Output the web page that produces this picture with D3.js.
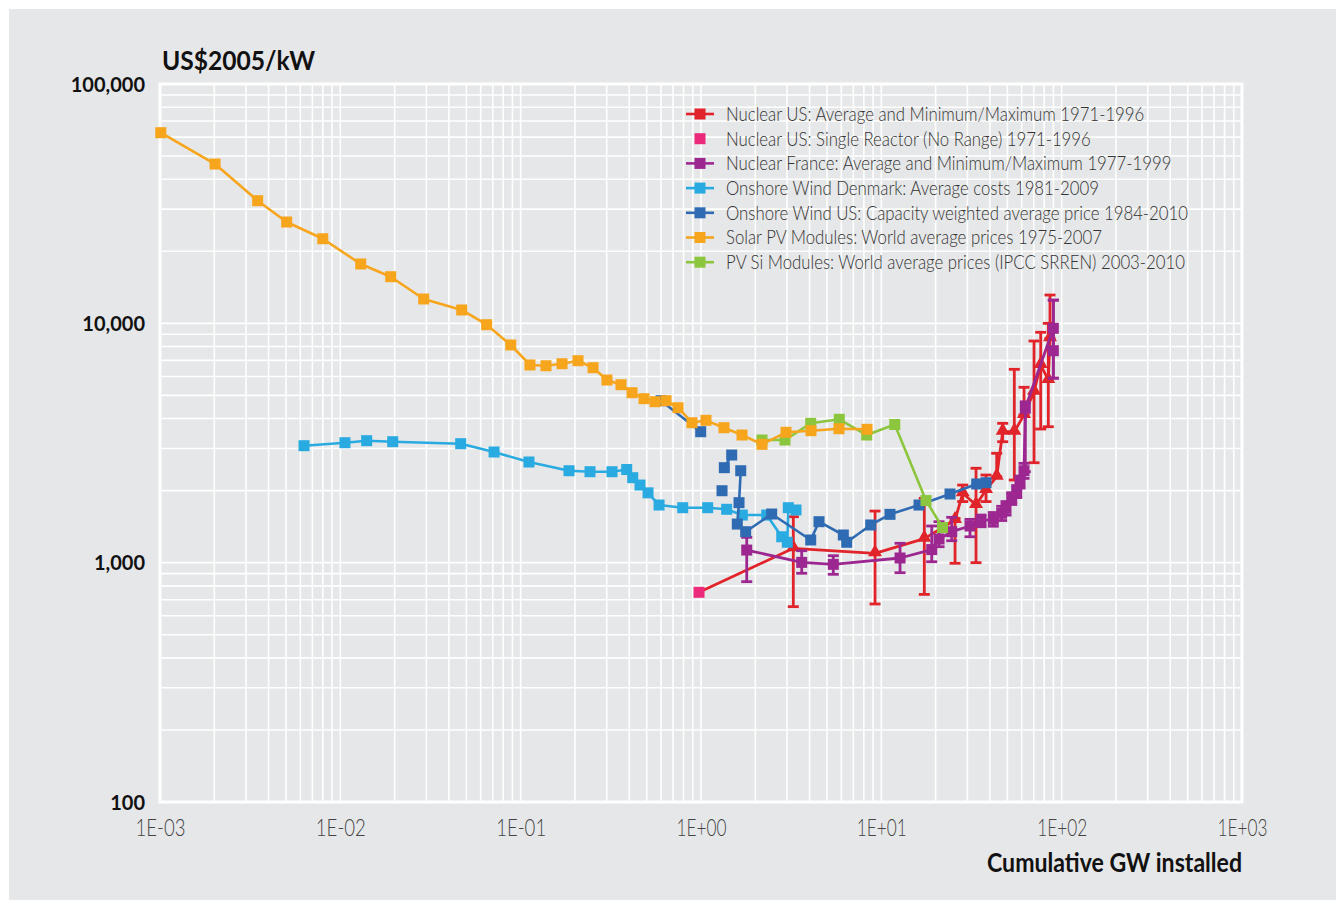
<!DOCTYPE html>
<html>
<head>
<meta charset="utf-8">
<script src="https://cdn.jsdelivr.net/npm/d3@7"></script>
<style>
  html, body { margin: 0; padding: 0; background: #ffffff; }
  svg { display: block; }
</style>
</head>
<body>
<svg id="chart" width="1344" height="908"></svg>
<script>
// ---- Data: cumulative installed capacity (GW) vs. investment cost (US$2005/kW) ----

// Solar PV Modules: World average prices 1975-2007
const solarGW   = [0.00101, 0.00202, 0.00348, 0.00504, 0.00799, 0.01297, 0.01902, 0.0290, 0.0471, 0.0648,
                   0.0881, 0.1126, 0.1382, 0.1696, 0.208, 0.252, 0.301, 0.360, 0.4145, 0.483,
                   0.556, 0.640, 0.746, 0.891, 1.066, 1.341, 1.688, 2.179, 2.960, 4.074, 5.825, 8.329];
const solarCost = [62600, 46300, 32540, 26510, 22570, 17700, 15660, 12640, 11370, 9870,
                   8120, 6700, 6650, 6780, 6980, 6525, 5797, 5540, 5130, 4843,
                   4705, 4750, 4440, 3843, 3933, 3663, 3415, 3122, 3505, 3560, 3628, 3607];

// PV Si Modules: World average prices (IPCC SRREN) 2003-2010
const pvsiGW   = [2.179, 2.923, 4.059, 5.848, 8.30, 11.87, 17.69, 21.84];
const pvsiCost = [3254, 3254, 3821, 3972, 3415, 3778, 1818, 1402];

// Onshore Wind Denmark: Average costs 1981-2009
const dkGW   = [0.00629, 0.01061, 0.01400, 0.01952, 0.0465, 0.0712, 0.1112, 0.1854, 0.2424, 0.3210,
                0.3873, 0.4182, 0.4590, 0.5085, 0.5853, 0.7917, 1.089, 1.388, 1.695, 2.314,
                2.803, 3.010, 3.049, 3.364];
const dkCost = [3081, 3171, 3233, 3202, 3141, 2900, 2634, 2422, 2399, 2399,
                2450, 2265, 2110, 1958, 1741, 1697, 1697, 1671, 1581, 1581,
                1283, 1217, 1697, 1660];

// Onshore Wind US: Capacity weighted average price 1984-2010 (null = gap in the line)
const usWindGW   = [0.6004, 0.9963, null, 1.308, null, 1.347, 1.480, null, 1.661, 1.625, 1.590, 1.769,
                    2.466, 4.059, 4.512, 6.155, 6.427, 8.733, 11.17, 16.18, 24.04, 33.80, 38.06];
const usWindCost = [4750, 3525, null, 1998, null, 2494, 2817, null, 2422, 1781, 1450, 1347,
                    1597, 1244, 1483, 1305, 1217, 1437, 1592, 1741, 1936, 2132, 2158];

// Nuclear US: Single Reactor (No Range) 1971-1996
const usReactorGW   = [0.975];
const usReactorCost = [752];

// Nuclear US: Average and Minimum/Maximum 1971-1996
const usNucGW   = [3.250, 9.226, 17.31, 25.63, 28.27, 33.50, 38.06, 43.63, 47.1, 54.63, 61.84, 70.27, 76.53, 84.33, 86.15];
const usNucCost = [1148, 1094, 1260, 1508, 1949, 1741, 2012, 2287, 3525, 3525, 4140, 5180, 6700, 5797, 8657];
const usNucMin  = [655, 672, 737, 994, 1800, 1000, 1800, 2287, 3202, 2215, 4140, 2616, 3618, 3698, 8657];
const usNucMax  = [1556, 1643, 1857, 1530, 2110, 2480, 2324, 2864, 3821, 6425, 5405, 8437, 9173, 10000, 13130];

// Nuclear France: Average and Minimum/Maximum 1977-1999
const frNucGW   = [1.793, 3.618, 5.416, 12.70, 19.03, 20.89, 24.57, 31.02, 35.70, 41.78, 46.5, 49.13,
                   52.84, 56.33, 58.75, 61.84, 62.87, 89.9, 89.9];
const frNucCost = [1129, 1003, 984, 1046, 1134, 1256, 1347, 1423, 1497, 1517, 1608, 1687,
                   1857, 1979, 2179, 2422, 4416, 9533, 7685];
const frNucMin  = [833, 903, 894, 908, 1009, 1166, 1235, 1283, 1413, 1420, 1500, 1580,
                   1750, 1870, 2050, 2250, 2400, 5900, 5900];
const frNucMax  = [1276, 1122, 1069, 1205, 1423, 1483, 1547, 1517, 1581, 1620, 1720, 1800,
                   1960, 2100, 2300, 2600, 4700, 12500, 12500];

// Axis ticks
const xTicks = [1e-3, 1e-2, 1e-1, 1e0, 1e1, 1e2, 1e3];
const yTicks = [100, 1000, 10000, 100000];

// Legend
const legendItems = [
  { label: "Nuclear US: Average and Minimum/Maximum 1971-1996", color: "#e1232a", line: true },
  { label: "Nuclear US: Single Reactor (No Range) 1971-1996", color: "#ec2a7b", line: false },
  { label: "Nuclear France: Average and Minimum/Maximum 1977-1999", color: "#9d2790", line: true },
  { label: "Onshore Wind Denmark: Average costs 1981-2009", color: "#29abe2", line: true },
  { label: "Onshore Wind US: Capacity weighted average price 1984-2010", color: "#2f6bb3", line: true },
  { label: "Solar PV Modules: World average prices 1975-2007", color: "#f7a51d", line: true },
  { label: "PV Si Modules: World average prices (IPCC SRREN) 2003-2010", color: "#8cc63f", line: true }
];

const C = {
  red: "#e1232a", pink: "#ec2a7b", purple: "#9d2790", lightBlue: "#29abe2",
  darkBlue: "#2f6bb3", orange: "#f7a51d", green: "#8cc63f"
};

// ---- Layout ----
const svg = d3.select("#chart");
const plot = { left: 160, right: 1242, top: 84, bottom: 802 };

svg.append("rect").attr("x", 9).attr("y", 9).attr("width", 1327).attr("height", 891).attr("fill", "#e6e7e8");

const x = d3.scaleLog().domain([1e-3, 1e3]).range([plot.left, plot.right]);
const y = d3.scaleLog().domain([100, 1e5]).range([plot.bottom, plot.top]);

// Grid: every 1..9 multiple of each decade
const xGrid = [], yGrid = [];
for (let e = -3; e < 3; e++) for (let m = 1; m < 10; m++) xGrid.push(m * Math.pow(10, e));
for (let e = 2; e < 5; e++) for (let m = 1; m < 10; m++) yGrid.push(m * Math.pow(10, e));

const grid = svg.append("g").attr("stroke", "#ffffff").attr("stroke-width", 1.6);
grid.selectAll("line.v").data(xGrid).join("line").attr("class", "v")
  .attr("x1", d => x(d)).attr("x2", d => x(d)).attr("y1", plot.top).attr("y2", plot.bottom);
grid.selectAll("line.h").data(yGrid).join("line").attr("class", "h")
  .attr("y1", d => y(d)).attr("y2", d => y(d)).attr("x1", plot.left).attr("x2", plot.right);
svg.append("rect").attr("x", plot.left).attr("y", plot.top)
  .attr("width", plot.right - plot.left).attr("height", plot.bottom - plot.top)
  .attr("fill", "none").attr("stroke", "#ffffff").attr("stroke-width", 3);

// Axes
const fmtX = v => {
  const p = Math.round(Math.log10(v));
  return "1E" + (p < 0 ? "-" : "+") + String(Math.abs(p)).padStart(2, "0");
};
const xAxis = svg.append("g").attr("transform", `translate(0,${plot.bottom})`)
  .call(d3.axisBottom(x).tickValues(xTicks).tickFormat(fmtX).tickSize(0).tickPadding(34));
xAxis.select(".domain").remove();
xAxis.selectAll("text")
  .attr("font-family", "Lato, 'Open Sans', sans-serif").attr("font-weight", 300)
  .attr("font-size", 23).attr("fill", "#444").attr("dy", 0)
  .attr("textLength", 50).attr("lengthAdjust", "spacingAndGlyphs");

const yAxis = svg.append("g").attr("transform", `translate(${plot.left},0)`)
  .call(d3.axisLeft(y).tickValues(yTicks).tickFormat(d3.format(",")).tickSize(0).tickPadding(15));
yAxis.select(".domain").remove();
yAxis.selectAll("text")
  .attr("font-family", "Lato, sans-serif").attr("font-weight", 700)
  .attr("font-size", 20).attr("fill", "#111").attr("dy", "0.35em");

svg.append("text").attr("x", 162).attr("y", 70).text("US$2005/kW")
  .attr("font-family", "Lato, sans-serif").attr("font-weight", 700).attr("font-size", 26).attr("fill", "#111")
  .attr("textLength", 153).attr("lengthAdjust", "spacingAndGlyphs");
svg.append("text").attr("x", plot.right).attr("y", 872).attr("text-anchor", "end").text("Cumulative GW installed")
  .attr("font-family", "Lato, sans-serif").attr("font-weight", 700).attr("font-size", 26).attr("fill", "#111")
  .attr("textLength", 255).attr("lengthAdjust", "spacingAndGlyphs");

// ---- Series drawing helpers ----
const zip = (xs, ys) => xs.map((v, i) => ({ x: v, y: ys[i] }));
const line = d3.line().defined(d => d.x != null && d.y != null).x(d => x(d.x)).y(d => y(d.y));
const SQ = 11;

function drawLine(pts, color, width = 2.6) {
  svg.append("path").datum(pts).attr("d", line).attr("fill", "none")
    .attr("stroke", color).attr("stroke-width", width).attr("stroke-linejoin", "round");
}
function drawSquares(pts, color, size = SQ) {
  svg.append("g").selectAll("rect").data(pts.filter(d => d.x != null)).join("rect")
    .attr("x", d => x(d.x) - size / 2).attr("y", d => y(d.y) - size / 2)
    .attr("width", size).attr("height", size).attr("fill", color);
}
function drawTriangles(pts, color) {
  const tri = d3.symbol().type(d3.symbolTriangle).size(85);
  svg.append("g").selectAll("path").data(pts).join("path")
    .attr("transform", d => `translate(${x(d.x)},${y(d.y) - 1})`).attr("d", tri).attr("fill", color);
}
function drawErrorBars(xs, lo, hi, color) {
  const g = svg.append("g").attr("stroke", color).attr("stroke-width", 2.8);
  const data = xs.map((v, i) => ({ x: v, lo: lo[i], hi: hi[i] }));
  g.selectAll("line.bar").data(data).join("line").attr("class", "bar")
    .attr("x1", d => x(d.x)).attr("x2", d => x(d.x)).attr("y1", d => y(d.lo)).attr("y2", d => y(d.hi));
  g.selectAll("line.lo").data(data).join("line").attr("class", "lo")
    .attr("x1", d => x(d.x) - 5.5).attr("x2", d => x(d.x) + 5.5).attr("y1", d => y(d.lo)).attr("y2", d => y(d.lo));
  g.selectAll("line.hi").data(data).join("line").attr("class", "hi")
    .attr("x1", d => x(d.x) - 5.5).attr("x2", d => x(d.x) + 5.5).attr("y1", d => y(d.hi)).attr("y2", d => y(d.hi));
}

// Nuclear US (line starts from the single reactor point)
const usNuc = zip(usNucGW, usNucCost);
const usReactor = zip(usReactorGW, usReactorCost);
drawLine(usReactor.concat(usNuc), C.red, 2.8);
drawErrorBars(usNucGW, usNucMin, usNucMax, C.red);
drawTriangles(usNuc, C.red);

// Nuclear France
const frNuc = zip(frNucGW, frNucCost);
drawLine(frNuc, C.purple, 2.8);
drawErrorBars(frNucGW, frNucMin, frNucMax, C.purple);
drawSquares(frNuc, C.purple);

// Onshore wind Denmark
const dk = zip(dkGW, dkCost);
drawLine(dk, C.lightBlue);
drawSquares(dk, C.lightBlue);

// Onshore wind US
const usWind = zip(usWindGW, usWindCost);
drawLine(usWind, C.darkBlue);
drawSquares(usWind, C.darkBlue);

// PV Si modules
const pvsi = zip(pvsiGW, pvsiCost);
drawLine(pvsi, C.green);
drawSquares(pvsi, C.green);

// Solar PV modules
const solar = zip(solarGW, solarCost);
drawLine(solar, C.orange);
drawSquares(solar, C.orange);

// Single reactor
drawSquares(usReactor, C.pink);

// ---- Legend ----
const legend = svg.append("g").attr("transform", "translate(686,114)");
const rows = legend.selectAll("g").data(legendItems).join("g")
  .attr("transform", (d, i) => `translate(0,${i * 24.7})`);
rows.filter(d => d.line).append("line").attr("x1", 0).attr("x2", 28).attr("y1", 0).attr("y2", 0)
  .attr("stroke", d => d.color).attr("stroke-width", 2.6);
rows.append("rect").attr("x", 14 - 5.5).attr("y", -5.5).attr("width", 11).attr("height", 11)
  .attr("fill", d => d.color);
const legendText = rows.append("text").attr("x", 40).attr("y", 0).attr("dy", "0.35em").text(d => d.label)
  .attr("font-family", "Lato, sans-serif").attr("font-weight", 300).attr("font-size", 19.5).attr("fill", "#333");
// The legend face is set narrower than Lato: condense each label horizontally
legendText.each(function () {
  const w = this.getComputedTextLength();
  d3.select(this).attr("textLength", w * 0.86).attr("lengthAdjust", "spacingAndGlyphs");
});
</script>
</body>
</html>
